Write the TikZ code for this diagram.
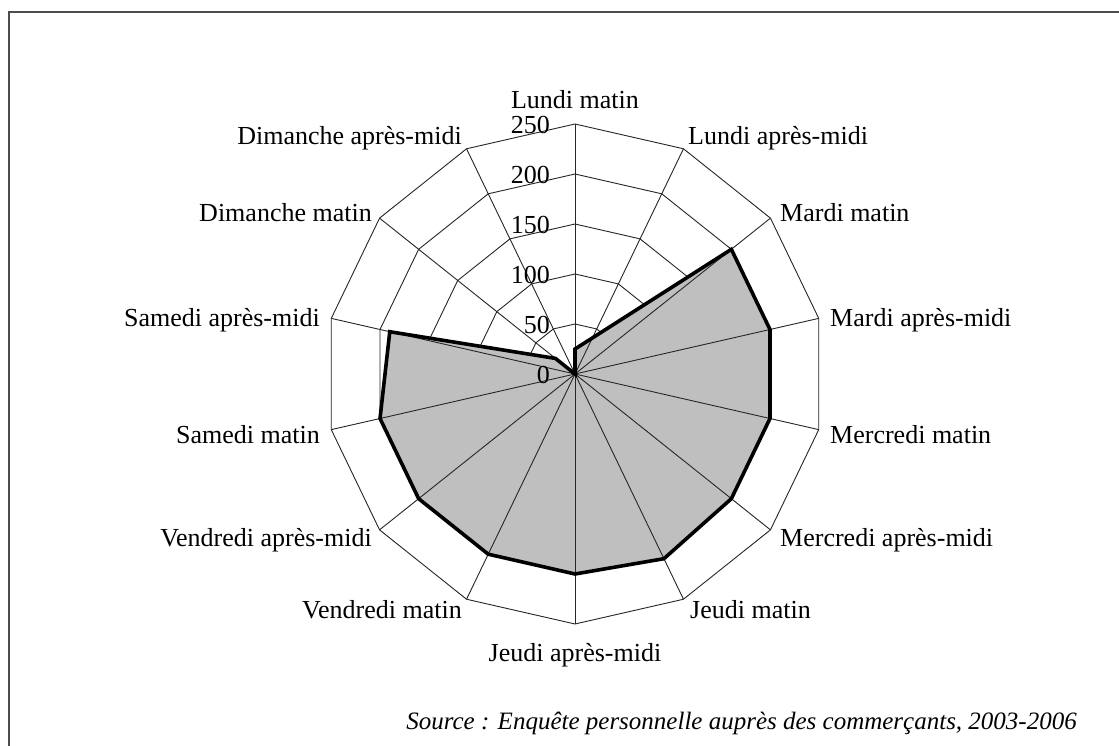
\documentclass[tikz,border=0pt]{standalone}
\usepackage{fontspec}
\setmainfont{Liberation Serif}
\begin{document}
\begin{tikzpicture}[x=1pt,y=-1pt,
  grid/.style={line width=0.9pt, draw=black!85},
  series/.style={line width=3.6pt, draw=black, line join=miter},
  area/.style={fill=black!25},
  lab/.style={font=\fontsize{26}{30}\selectfont, inner sep=0pt},
  tick/.style={font=\fontsize{26}{30}\selectfont, inner sep=0pt, anchor=east},
  frame/.style={line width=1.5pt, draw=black!70}]
\useasboundingbox (0,0) rectangle (1119,746);
\fill[white] (0,0) rectangle (1119,746);
\draw[frame] (1119,12) -- (9,12) -- (9,746);
\coordinate (O) at (575,374);
% data points
\foreach \v [count=\i from 0] in {25,40,200,200,200,200,205,200,200,200,200,190,25,0}
  \coordinate (p\i) at ([shift={(O)}] {-90+\i*360/14}:\v);
% rings
\foreach \r in {50,100,150,200,250}
  \draw[grid] ([shift={(O)}] -90:\r) \foreach \i in {1,...,13} { -- ([shift={(O)}] {-90+\i*360/14}:\r) } -- cycle;
% filled area (hides the rings)
\fill[area] (p0) -- (p1) -- (p2) -- (p3) -- (p4) -- (p5) -- (p6) -- (p7) -- (p8) -- (p9) -- (p10) -- (p11) -- (p12) -- (p13) -- cycle;
% spokes
\foreach \i in {0,...,13}
  \draw[grid] (O) -- ([shift={(O)}] {-90+\i*360/14}:250);
% series outline
\draw[series] (p0) -- (p1) -- (p2) -- (p3) -- (p4) -- (p5) -- (p6) -- (p7) -- (p8) -- (p9) -- (p10) -- (p11) -- (p12) -- (p13) -- cycle;
% axis tick labels
\node[tick] (t0) at (550,375) {0};
\node[tick] (t50) at (550,325) {50};
\node[tick] (t100) at (550,275) {100};
\node[tick] (t150) at (550,225) {150};
\node[tick] (t200) at (550,175) {200};
\node[tick] (t250) at (550,125) {250};
% category labels
\node[lab, anchor=center] (l0) at (575,100) {Lundi matin};
\node[lab, anchor=west] (l1) at (688,138) {Lundi après-midi};
\node[lab, anchor=west] (l2) at (780,213) {Mardi matin};
\node[lab, anchor=west] (l3) at (830,320) {Mardi après-midi};
\node[lab, anchor=west] (l4) at (830,435) {Mercredi matin};
\node[lab, anchor=west] (l5) at (780,540) {Mercredi après-midi};
\node[lab, anchor=west] (l6) at (690,610) {Jeudi matin};
\node[lab, anchor=center] (l7) at (575,655) {Jeudi après-midi};
\node[lab, anchor=east] (l8) at (462,610) {Vendredi matin};
\node[lab, anchor=east] (l9) at (372,540) {Vendredi après-midi};
\node[lab, anchor=east] (l10) at (320,435) {Samedi matin};
\node[lab, anchor=east] (l11) at (320,320) {Samedi après-midi};
\node[lab, anchor=east] (l12) at (372,213) {Dimanche matin};
\node[lab, anchor=east] (l13) at (462,138) {Dimanche après-midi};
% source
\node[lab, anchor=east, font=\fontsize{25}{30}\selectfont\itshape] (src) at (1077,723) {Source : Enquête personnelle auprès des commerçants, 2003-2006};
\end{tikzpicture}
\end{document}
